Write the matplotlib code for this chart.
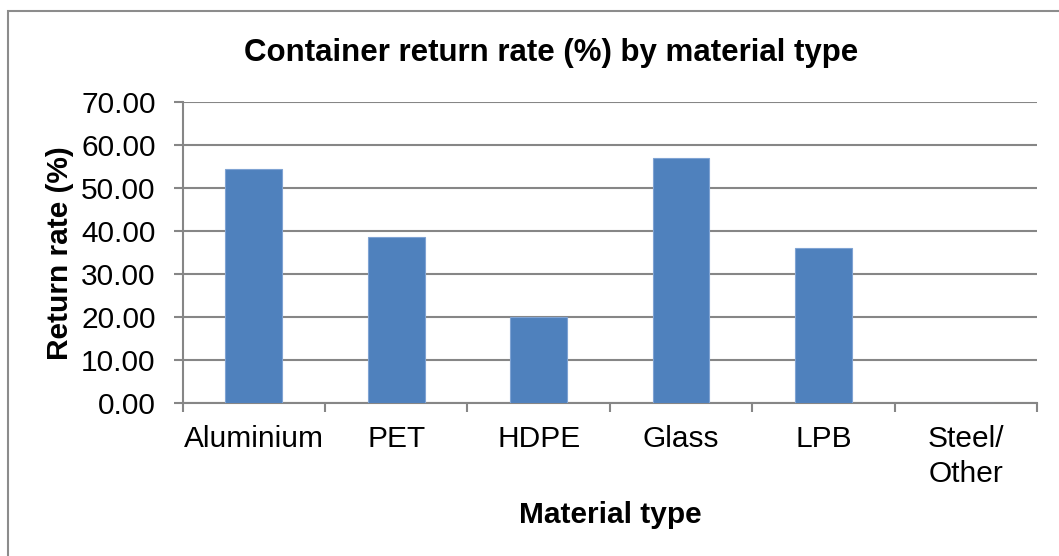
import numpy as np
import matplotlib
matplotlib.use("Agg")
import matplotlib.pyplot as plt
from matplotlib.patches import Rectangle

# data
materials = ["Aluminium", "PET", "HDPE", "Glass", "LPB", "Steel/\nOther"]
return_rate = [54.4, 38.6, 20.1, 57.0, 36.1, 0.0]
yticks = [0, 10, 20, 30, 40, 50, 60, 70]

plt.rcParams['font.family'] = ['Liberation Sans', 'DejaVu Sans']

fig = plt.figure(figsize=(10.59, 5.56), dpi=100)
ax = fig.add_axes([0.1725, 0.2747, 0.8067, 0.5418])

grid_col = "#868686"
x = np.arange(len(materials))
ax.bar(x, return_rate, width=0.4, color="#4F81BD", edgecolor="#7FA3D3",
       linewidth=0.8, zorder=3)

ax.set_xlim(-0.5, len(materials) - 0.5)
ax.set_ylim(0, 70)
ax.set_yticks(yticks)
ax.set_yticklabels(["%.2f" % v for v in yticks])
ax.yaxis.grid(True, color=grid_col, linewidth=1.5, zorder=0)

ax.set_xticks(x)
ax.set_xticklabels(materials)
for lbl in ax.get_xticklabels():
    lbl.set_linespacing(1.3)
ax.set_xticks(np.arange(len(materials) + 1) - 0.5, minor=True)
ax.tick_params(axis="x", which="major", length=0, pad=16, labelsize=21.5)
ax.tick_params(axis="x", which="minor", length=6.5, width=1.5, color=grid_col)
ax.tick_params(axis="y", length=6.5, width=1.5, color=grid_col, pad=13,
               labelsize=21.5)

for s in ["top", "right"]:
    ax.spines[s].set_visible(False)
for s in ["left", "bottom"]:
    ax.spines[s].set_color(grid_col)
    ax.spines[s].set_linewidth(1.5)

ax.set_xlabel("Material type", fontsize=21.5, fontweight="bold", va="center")
ax.xaxis.set_label_coords(0.5, -0.372)
ax.set_ylabel("Return rate (%)", fontsize=21.5, fontweight="bold", labelpad=5)

fig.text(551 / 1059, 1 - 53 / 556, "Container return rate (%) by material type",
         ha="center", va="center", fontsize=22.5, fontweight="bold")

# outer chart-area border
fig.patches.append(Rectangle((8 / 1059, -0.05), 1.2, 1 - 11 / 556 + 0.05,
                             transform=fig.transFigure, fill=False,
                             edgecolor="#8c8c8c", linewidth=1.5))

fig.savefig("out.png", dpi=100)
